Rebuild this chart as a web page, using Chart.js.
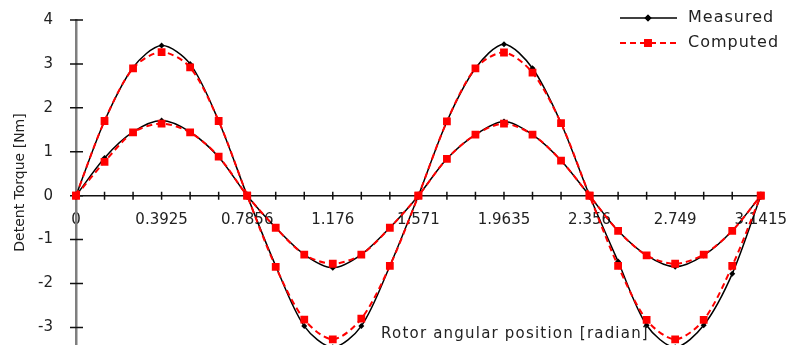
<!DOCTYPE html>
<html>
<head>
<meta charset="utf-8">
<script src="https://cdn.jsdelivr.net/npm/chart.js@4.4.1/dist/chart.umd.min.js"></script>
<style>
    body { margin: 0; background: #fff; }
    #wrap { width: 802px; height: 345px; position: relative; }
</style>
</head>
<body>
<div id="wrap"><canvas id="chart"></canvas></div>
<script>
// ============================
// Data
// ============================

// rotor positions, one every pi/24 rad
const angles = [0, 0.1309, 0.2618, 0.3925, 0.5236, 0.6545, 0.7856, 0.9163, 1.0472, 1.176, 1.309, 1.4399,
    1.571, 1.7017, 1.8326, 1.9635, 2.0944, 2.2253, 2.356, 2.4871, 2.618, 2.749, 2.8798, 3.0107, 3.1415];

const tickLabels = ['0', '0.3925', '0.7856', '1.176', '1.571', '1.9635', '2.356', '2.749', '3.1415'];
const yTicks = [-3, -2, -1, 0, 1, 2, 3, 4];

const measuredLarge = [0, 1.70, 2.92, 3.42, 3.00, 1.70, 0, -1.60, -2.97, -3.45, -2.97, -1.60,
    0, 1.69, 2.90, 3.45, 2.90, 1.65, 0, -1.50, -2.95, -3.45, -2.95, -1.78, 0];
const computedLarge = [0, 1.70, 2.90, 3.27, 2.92, 1.70, 0, -1.62, -2.82, -3.27, -2.80, -1.60,
    0, 1.69, 2.90, 3.26, 2.80, 1.65, 0, -1.60, -2.83, -3.27, -2.83, -1.60, 0];
const measuredSmall = [0, 0.86, 1.45, 1.71, 1.45, 0.88, 0, -0.73, -1.34, -1.64, -1.34, -0.73,
    0, 0.84, 1.39, 1.69, 1.39, 0.80, 0, -0.80, -1.36, -1.62, -1.36, -0.80, 0];
const computedSmall = [0, 0.77, 1.44, 1.64, 1.44, 0.89, 0, -0.73, -1.34, -1.55, -1.34, -0.73,
    0, 0.84, 1.39, 1.64, 1.39, 0.80, 0, -0.80, -1.36, -1.55, -1.34, -0.80, 0];

const FONT = 'DejaVu Sans';
const BLACK = '#000';
const RED = '#ff0000';

// ============================
// Helpers
// ============================

function measuredSet(data) {
    return {
        label: 'Measured',
        data: data,
        borderColor: BLACK,
        backgroundColor: BLACK,
        borderWidth: 1.5,
        pointStyle: 'rectRot',
        pointRadius: 3,
        pointBackgroundColor: BLACK,
        pointBorderWidth: 0,
        tension: 0.3,
        order: 2
    };
}

function computedSet(data) {
    return {
        label: 'Computed',
        data: data,
        borderColor: RED,
        backgroundColor: RED,
        borderWidth: 2,
        borderDash: [6, 4],
        pointStyle: 'rect',
        pointRadius: 5.5,
        pointBackgroundColor: RED,
        pointBorderWidth: 0,
        tension: 0.3,
        order: 1
    };
}

// tick marks that cross both axes, like the original
const crossTicks = {
    id: 'crossTicks',
    beforeDatasetsDraw(chart) {
        const ctx = chart.ctx;
        const x = chart.scales.x;
        const y = chart.scales.y;
        const x0 = x.left;
        const y0 = y.getPixelForValue(0);
        ctx.save();
        ctx.strokeStyle = '#111';
        ctx.lineWidth = 1.5;
        ctx.beginPath();
        yTicks.forEach(v => {
            const py = y.getPixelForValue(v);
            ctx.moveTo(x0 - 6, py);
            ctx.lineTo(x0 + 7, py);
        });
        angles.forEach((a, i) => {
            const px = x.getPixelForValue(i);
            ctx.moveTo(px, y0 - 4);
            ctx.lineTo(px, y0 + 4);
        });
        ctx.stroke();
        ctx.restore();
    },
    afterDraw(chart) {
        const ctx = chart.ctx;
        ctx.save();
        // x axis title sits inside the plot at the bottom
        ctx.fillStyle = '#222';
        ctx.font = '15px "' + FONT + '"';
        ctx.letterSpacing = '1.2px';
        ctx.textAlign = 'center';
        ctx.textBaseline = 'middle';
        ctx.fillText('Rotor angular position [radian]', 515, 334);

        // legend
        const rows = [
            { text: 'Measured', color: BLACK, dash: [], style: 'rectRot', r: 3.5, w: 1.5 },
            { text: 'Computed', color: RED, dash: [6, 4], style: 'rect', r: 5.5, w: 2 }
        ];
        rows.forEach((row, i) => {
            const ly = 18 + i * 25;
            ctx.strokeStyle = row.color;
            ctx.lineWidth = row.w;
            ctx.setLineDash(row.dash);
            ctx.beginPath();
            ctx.moveTo(620, ly);
            ctx.lineTo(677, ly);
            ctx.stroke();
            ctx.setLineDash([]);
            ctx.fillStyle = row.color;
            Chart.helpers.drawPoint(ctx, { pointStyle: row.style, radius: row.r, borderWidth: 0, rotation: 0 }, 648, ly);
            ctx.fill();
            ctx.fillStyle = '#222';
            ctx.font = '16px "' + FONT + '"';
            ctx.letterSpacing = '1px';
            ctx.textAlign = 'left';
            ctx.fillText(row.text, 688, ly);
        });
        ctx.restore();
    }
};

// ============================
// Chart
// ============================

const ctx = document.getElementById('chart').getContext('2d');

new Chart(ctx, {
    type: 'line',
    data: {
        labels: angles,
        datasets: [
            measuredSet(measuredLarge),
            measuredSet(measuredSmall),
            computedSet(computedLarge),
            computedSet(computedSmall)
        ]
    },
    options: {
        responsive: true,
        maintainAspectRatio: false,
        animation: false,
        layout: {
            autoPadding: false,
            padding: { left: 0, right: 34, top: 20, bottom: 0 }
        },
        scales: {
            x: {
                type: 'category',
                position: { y: 0 },
                offset: false,
                afterFit: scale => { scale.height = 0; },
                grid: { drawOnChartArea: false, drawTicks: false },
                border: { color: '#111', width: 1.5 },
                ticks: {
                    autoSkip: false,
                    maxRotation: 0,
                    padding: 15,
                    color: '#222',
                    font: { family: FONT, size: 15 },
                    callback: (v, i) => (i % 3 === 0 ? tickLabels[i / 3] : '')
                }
            },
            y: {
                min: -3.4,
                max: 4,
                grid: { drawOnChartArea: false, drawTicks: false },
                border: { color: '#7f7f7f', width: 2.5 },
                afterFit: scale => {
                    scale.width = 76;
                    scale.paddingTop = 0;
                    scale.paddingBottom = 0;
                },
                ticks: {
                    stepSize: 1,
                    padding: 23,
                    color: '#222',
                    font: { family: FONT, size: 15 },
                    callback: v => (yTicks.includes(v) ? v : '')
                },
                title: {
                    display: true,
                    text: 'Detent Torque [Nm]',
                    color: '#222',
                    font: { family: FONT, size: 14 },
                    padding: { top: 12 }
                }
            }
        },
        plugins: {
            legend: { display: false },
            tooltip: { enabled: false }
        }
    },
    plugins: [crossTicks]
});
</script>
</body>
</html>
